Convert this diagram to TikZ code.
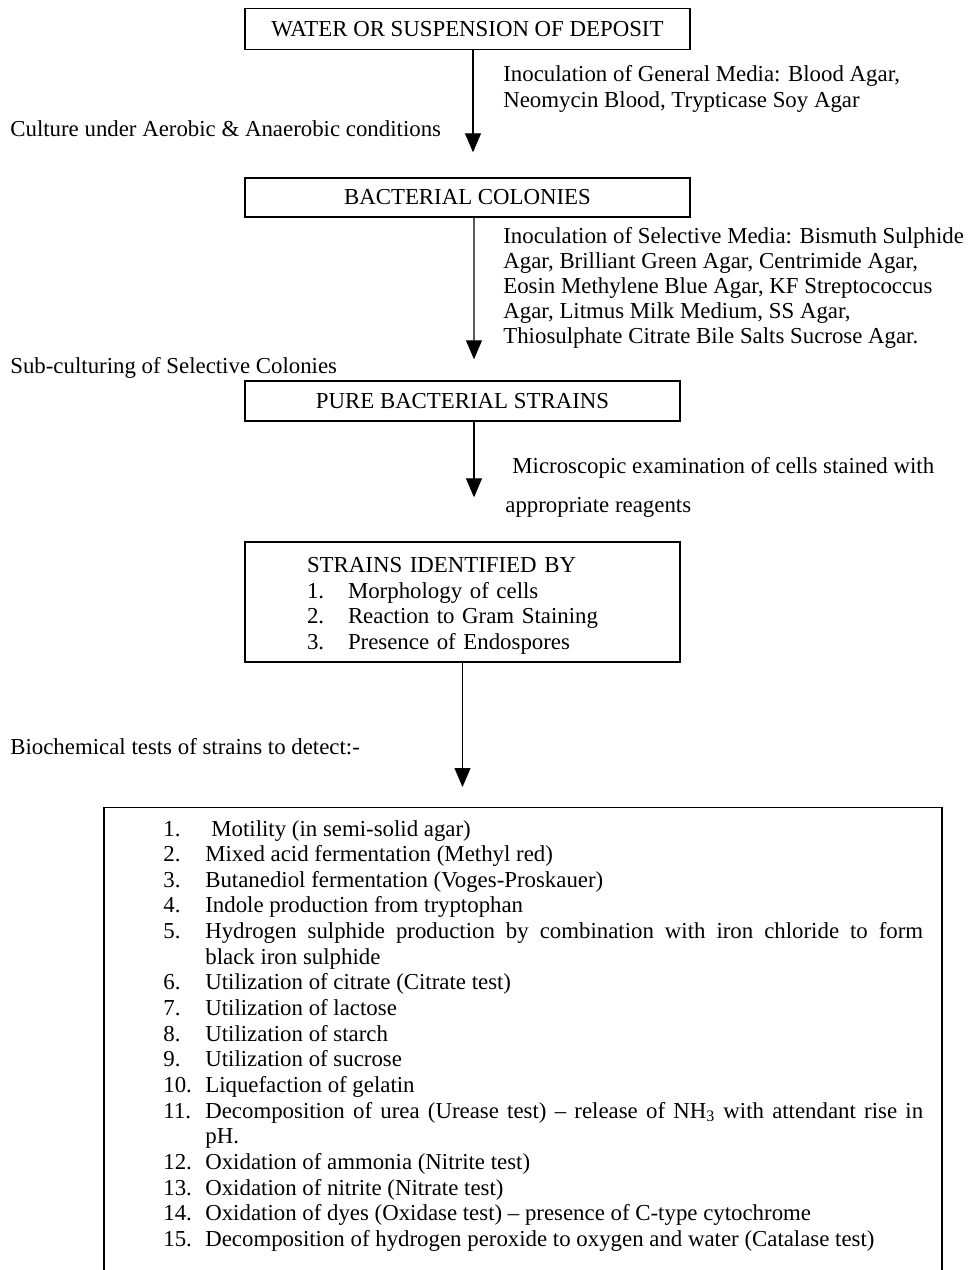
\documentclass[tikz,border=0pt]{standalone}
\usepackage{fontspec}
\setmainfont{Liberation Serif}
\usetikzlibrary{arrows.meta,positioning}
\newcommand{\listnum}[1]{\makebox[0.82cm][l]{#1}}

\begin{document}
\begin{tikzpicture}[x=0.02cm, y=-0.02cm, >={Triangle[length=0.38cm,width=0.32cm]},
  every node/.style={font=\fontsize{13}{14.6}\selectfont, inner sep=0pt},
  stagebox/.style={draw, line width=0.8pt, minimum width=8.9cm, minimum height=0.82cm},
  note/.style={align=left, anchor=north west},
  flow/.style={->, line width=0.6pt}]
  \useasboundingbox (0,0) rectangle (970,1270);
  \clip (0,0) rectangle (970,1270);

  % stages
  \node[stagebox] (water) at (467.5,29) {WATER OR SUSPENSION OF DEPOSIT};
  \node[stagebox, minimum height=0.78cm] (colonies) at (467.5,197.5) {BACTERIAL COLONIES};
  \node[stagebox, minimum width=8.7cm, minimum height=0.8cm] (pure) at (462.5,401) {PURE BACTERIAL STRAINS};
  \node[stagebox, minimum width=8.7cm, minimum height=2.4cm, text width=6.22cm,
    inner xsep=1.24cm, align=left] (identified) at (462.5,602) {\rule{0pt}{0.46cm}STRAINS IDENTIFIED BY\\
    \listnum{1.}Morphology of cells\\
    \listnum{2.}Reaction to Gram Staining\\
    \listnum{3.}Presence of Endospores};
  \node[draw, line width=0.8pt, minimum width=16.76cm, minimum height=12cm, anchor=north] (tests) at (523,807) {};

  % side notes
  \node[note] (general) at (503,65) {Inoculation of General Media: Blood Agar,\\Neomycin Blood, Trypticase Soy Agar};
  \node[anchor=base west] (culture) at (10,137) {Culture under Aerobic \& Anaerobic conditions};
  \node[note, font=\fontsize{13}{14.2}\selectfont] (selective) at (503,227) {Inoculation of Selective Media: Bismuth Sulphide\\
    Agar, Brilliant Green Agar, Centrimide Agar,\\
    Eosin Methylene Blue Agar, KF Streptococcus\\
    Agar, Litmus Milk Medium, SS Agar,\\
    Thiosulphate Citrate Bile Salts Sucrose Agar.};
  \node[anchor=base west] (subculture) at (10,373) {Sub-culturing of Selective Colonies};
  \node[note] (microscopy) at (505,457) {\hspace*{0.14cm}Microscopic examination of cells stained with\\[0.27cm]appropriate reagents};
  \node[anchor=base west] (biochem) at (10,754) {Biochemical tests of strains to detect:-};

  % list of tests
  \node[anchor=base west] (testlist) at (163,836) {%
    \begin{tabular}[t]{@{}p{0.84cm}@{}p{14.36cm}@{}}
    1. & \hspace{0.12cm}Motility (in semi-solid agar)\\
    2. & Mixed acid fermentation (Methyl red)\\
    3. & Butanediol fermentation (Voges-Proskauer)\\
    4. & Indole production from tryptophan\\
    5. & \makebox[\linewidth][s]{Hydrogen sulphide production by combination with iron chloride to form}\\
       & black iron sulphide\\
    6. & Utilization of citrate (Citrate test)\\
    7. & Utilization of lactose\\
    8. & Utilization of starch\\
    9. & Utilization of sucrose\\
    10. & Liquefaction of gelatin\\
    11. & \makebox[\linewidth][s]{Decomposition of urea (Urease test) -- release of NH\textsubscript{3} with attendant rise in}\\
        & pH.\\
    12. & Oxidation of ammonia (Nitrite test)\\
    13. & Oxidation of nitrite (Nitrate test)\\
    14. & Oxidation of dyes (Oxidase test) -- presence of C-type cytochrome\\
    15. & Decomposition of hydrogen peroxide to oxygen and water (Catalase test)
    \end{tabular}};

  % flow arrows
  \draw[flow] ([xshift=0.11cm]water.south) -- ([xshift=0.11cm, yshift=0.5cm]colonies.north);
  \draw[flow] ([xshift=0.13cm]colonies.south) -- ([xshift=0.23cm, yshift=0.42cm]pure.north);
  \draw[flow] ([xshift=0.23cm]pure.south) -- ([xshift=0.23cm, yshift=0.88cm]identified.north);
  \draw[flow] (identified.south) -- ([yshift=0.4cm]identified.south |- tests.north);
\end{tikzpicture}
\end{document}
